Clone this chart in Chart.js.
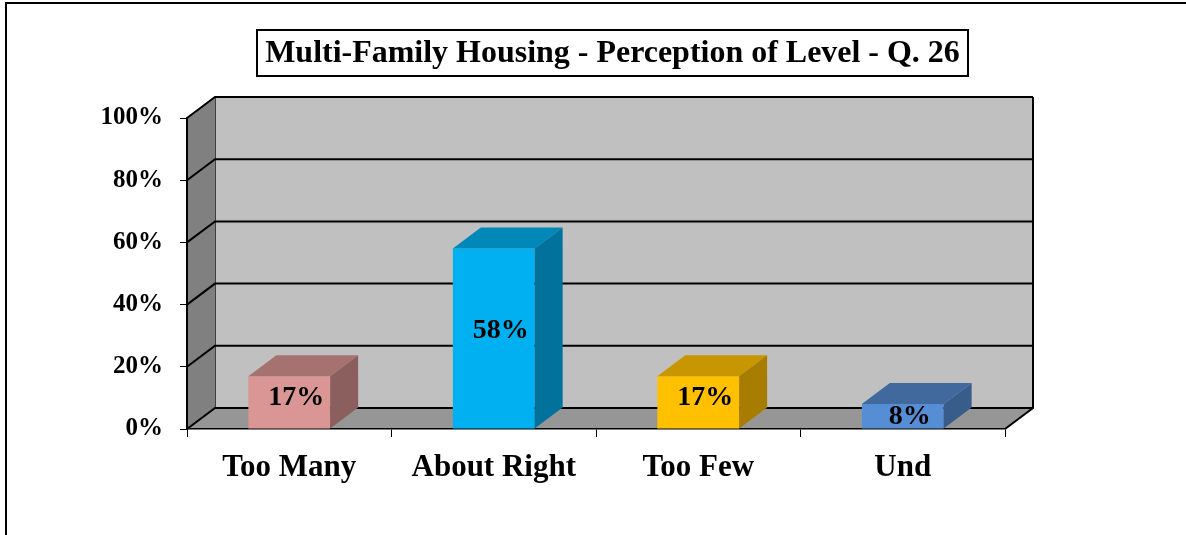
<!DOCTYPE html>
<html>
<head>
<meta charset="utf-8">
<script src="https://cdn.jsdelivr.net/npm/chart.js@4.4.1/dist/chart.umd.min.js"></script>
<style>
  html, body { margin: 0; padding: 0; background: #ffffff; }
  #wrap { position: relative; width: 1186px; height: 535px; }
  canvas { display: block; }
</style>
</head>
<body>
<div id="wrap"><canvas id="c" width="1186" height="535"></canvas></div>
<script>
// ---- data ----
const categories = ["Too Many", "About Right", "Too Few", "Und"];
const values = [17, 58, 17, 8];
const yTicks = [0, 20, 40, 60, 80, 100];
const titleText = "Multi-Family Housing - Perception of Level - Q. 26";

// ---- styles ----
const frontColors = ["#D99694", "#00B0F0", "#FFC000", "#558ED5"];
const topColors   = ["#A6726F", "#0088B8", "#C79600", "#41699E"];
const sideColors  = ["#8B5F5D", "#00729C", "#A67D00", "#385D8A"];
const DX = 28, DY = 21;
const SERIF = '"Liberation Serif", "Times New Roman", serif';

const threeD = {
  id: 'threeD',
  beforeDraw(chart) {
    const ctx = chart.ctx;
    const a = chart.chartArea;
    const ys = chart.scales.y;
    ctx.save();
    // outer frame
    ctx.strokeStyle = '#000'; ctx.lineWidth = 2;
    ctx.beginPath(); ctx.moveTo(6, 535); ctx.lineTo(6, 3); ctx.lineTo(1186, 3); ctx.stroke();

    const L = a.left, R = a.right, T = ys.getPixelForValue(100), B = ys.getPixelForValue(0);
    // back wall
    ctx.fillStyle = '#C0C0C0';
    ctx.fillRect(L + DX, T - DY, R - L, B - T);
    // side wall
    ctx.fillStyle = '#808080';
    ctx.beginPath();
    ctx.moveTo(L, B); ctx.lineTo(L, T); ctx.lineTo(L + DX, T - DY); ctx.lineTo(L + DX, B - DY); ctx.closePath();
    ctx.fill();
    // floor
    ctx.fillStyle = '#969696';
    ctx.beginPath();
    ctx.moveTo(L, B); ctx.lineTo(L + DX, B - DY); ctx.lineTo(R + DX, B - DY); ctx.lineTo(R, B); ctx.closePath();
    ctx.fill();
    // back wall left edge (thin)
    ctx.strokeStyle = '#404040'; ctx.lineWidth = 1;
    ctx.beginPath(); ctx.moveTo(L + DX + 0.5, T - DY); ctx.lineTo(L + DX + 0.5, B - DY); ctx.stroke();
    // gridlines
    ctx.strokeStyle = '#000'; ctx.lineWidth = 2;
    yTicks.forEach(v => {
      const y = ys.getPixelForValue(v);
      ctx.beginPath();
      ctx.moveTo(L, y); ctx.lineTo(L + DX, y - DY); ctx.lineTo(R + DX, y - DY);
      ctx.stroke();
    });
    // right edge of back wall and floor diagonal
    ctx.beginPath();
    ctx.moveTo(R + DX, T - DY); ctx.lineTo(R + DX, B - DY); ctx.lineTo(R, B);
    ctx.stroke();
    // side wall front edge
    ctx.beginPath(); ctx.moveTo(L, T); ctx.lineTo(L, B); ctx.stroke();

    // title box
    const bx = 257, by = 30, bw = 711, bh = 46;
    ctx.fillStyle = '#fff'; ctx.fillRect(bx, by, bw, bh);
    ctx.strokeStyle = '#000'; ctx.lineWidth = 2;
    ctx.strokeRect(bx, by, bw, bh);
    let fs = 30;
    ctx.font = 'bold ' + fs + 'px ' + SERIF;
    const w = ctx.measureText(titleText).width;
    fs = Math.min(32, fs * 695 / w);
    ctx.font = 'bold ' + fs.toFixed(2) + 'px ' + SERIF;
    ctx.fillStyle = '#000';
    ctx.textAlign = 'center'; ctx.textBaseline = 'middle';
    ctx.fillText(titleText, bx + bw / 2, by + bh / 2 + 1);
    ctx.restore();
  },
  afterDatasetsDraw(chart) {
    const ctx = chart.ctx;
    const meta = chart.getDatasetMeta(0);
    ctx.save();
    meta.data.forEach((bar, i) => {
      const p = bar.getProps(['x', 'y', 'base', 'width'], true);
      const l = p.x - p.width / 2, r = p.x + p.width / 2, t = p.y, b = p.base;
      // top face
      ctx.fillStyle = topColors[i];
      ctx.beginPath();
      ctx.moveTo(l, t); ctx.lineTo(r, t); ctx.lineTo(r + DX, t - DY); ctx.lineTo(l + DX, t - DY); ctx.closePath();
      ctx.fill();
      // side face
      ctx.fillStyle = sideColors[i];
      ctx.beginPath();
      ctx.moveTo(r, t); ctx.lineTo(r + DX, t - DY); ctx.lineTo(r + DX, b - DY); ctx.lineTo(r, b); ctx.closePath();
      ctx.fill();
      // label
      const h = b - t;
      const off = Math.min(9, Math.max(0, (h - 24) / 5));
      ctx.fillStyle = '#000';
      ctx.font = 'bold 28px ' + SERIF;
      ctx.textAlign = 'center'; ctx.textBaseline = 'middle';
      ctx.fillText(values[i] + '%', p.x + 7, (t + b) / 2 - off + 1);
    });
    ctx.restore();
  }
};

new Chart(document.getElementById('c'), {
  type: 'bar',
  data: {
    labels: categories,
    datasets: [{
      data: values,
      backgroundColor: frontColors,
      borderWidth: 0,
      barPercentage: 0.4,
      categoryPercentage: 1.0
    }]
  },
  options: {
    responsive: false,
    animation: false,
    devicePixelRatio: 1,
    layout: { padding: { top: 118, right: 181, bottom: 0, left: 0 } },
    plugins: { legend: { display: false }, tooltip: { enabled: false }, title: { display: false } },
    scales: {
      x: {
        grid: { offset: true, drawOnChartArea: false, drawTicks: true, tickLength: 8, color: '#000', lineWidth: 1 },
        border: { display: true, color: '#000', width: 1.5 },
        ticks: { color: '#000', font: { family: SERIF, size: 31, weight: 'bold' }, padding: 12, maxRotation: 0 },
        afterFit(s) { s.height = 106; }
      },
      y: {
        min: 0, max: 100,
        afterBuildTicks(s) { s.ticks = yTicks.map(v => ({ value: v })); },
        grid: { drawOnChartArea: false, drawTicks: true, tickLength: 7, color: '#000', lineWidth: 1 },
        border: { display: true, color: '#000', width: 1.5 },
        ticks: { color: '#000', font: { family: SERIF, size: 25, weight: 'bold' }, padding: 17, callback: v => v + '%' },
        afterFit(s) { s.width = 187; }
      }
    }
  },
  plugins: [threeD]
});
</script>
</body>
</html>
